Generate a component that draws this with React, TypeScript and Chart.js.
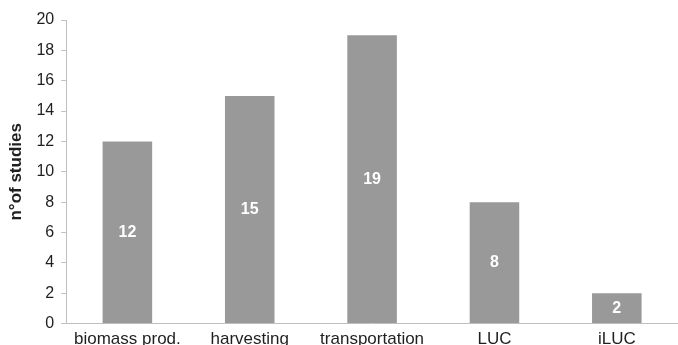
import React, { useEffect, useRef } from "react";
import { Chart, registerables } from "chart.js";

Chart.register(...registerables);

const categories = ["biomass prod.", "harvesting", "transportation", "LUC", "iLUC"];
const studyCounts = [12, 15, 19, 8, 2];
const yTickMax = 20;
const yTickStep = 2;
const yTitle = "n°of studies";

const FONT = "'Liberation Sans', Arial, sans-serif";

// Writes each bar's value in white, centred inside the bar
const barValueLabels = {
  id: "barValueLabels",
  afterDatasetsDraw(chart: Chart) {
    const ctx = chart.ctx;
    const meta = chart.getDatasetMeta(0);
    ctx.save();
    ctx.fillStyle = "#ffffff";
    ctx.font = `bold 16px ${FONT}`;
    ctx.textAlign = "center";
    ctx.textBaseline = "middle";
    meta.data.forEach((el: any, i: number) => {
      const { x, y, base } = el.getProps(["x", "y", "base"], true);
      ctx.fillText(String(studyCounts[i]), x, (y + base) / 2);
    });
    ctx.restore();
  },
};

export default function App() {
  const canvasRef = useRef<HTMLCanvasElement | null>(null);

  useEffect(() => {
    if (!canvasRef.current) return;
    const chart = new Chart(canvasRef.current, {
      type: "bar",
      data: {
        labels: categories,
        datasets: [
          {
            data: studyCounts,
            backgroundColor: "#999999",
            borderWidth: 0,
            categoryPercentage: 1,
            barPercentage: 0.405,
          },
        ],
      },
      options: {
        responsive: false,
        animation: false,
        layout: { padding: { top: 20, right: 0, left: 6, bottom: 0 } },
        plugins: {
          legend: { display: false },
          tooltip: { enabled: false },
        },
        scales: {
          x: {
            grid: { display: false, drawTicks: false },
            border: { display: true, color: "#bfbfbf", width: 1 },
            ticks: {
              color: "#1f1f1f",
              font: { family: FONT, size: 17 },
              padding: 6,
              maxRotation: 0,
              autoSkip: false,
            },
          },
          y: {
            min: 0,
            max: yTickMax,
            grid: {
              display: true,
              drawOnChartArea: false,
              drawTicks: true,
              tickLength: 5,
              color: "#bfbfbf",
            },
            border: { display: true, color: "#bfbfbf", width: 1 },
            ticks: {
              stepSize: yTickStep,
              color: "#1f1f1f",
              font: { family: FONT, size: 16 },
              padding: 7,
            },
            title: {
              display: true,
              text: yTitle,
              color: "#1f1f1f",
              font: { family: FONT, size: 17, weight: "bold" },
              padding: { top: 0, bottom: 3 },
            },
          },
        },
      },
      plugins: [barValueLabels],
    });
    return () => chart.destroy();
  }, []);

  return (
    <div
      style={{
        position: "fixed",
        left: 0,
        top: 0,
        width: 678,
        height: 345,
        overflow: "hidden",
        background: "#ffffff",
      }}
    >
      <canvas ref={canvasRef} width={678} height={356} style={{ display: "block" }} />
    </div>
  );
}
